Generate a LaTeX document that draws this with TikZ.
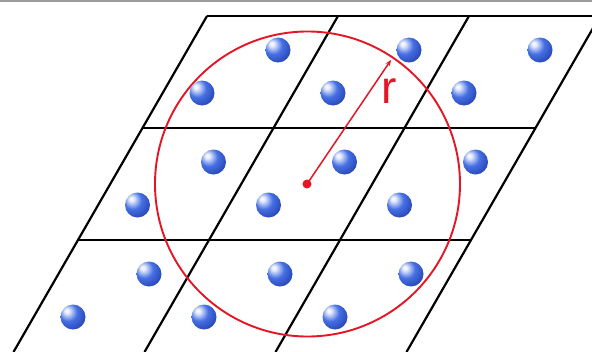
\documentclass[tikz,border=0pt]{standalone}
\usepackage{fontspec}
\setmainfont{Liberation Sans}
\usetikzlibrary{arrows.meta}
\definecolor{lred}{RGB}{228,22,38}
\definecolor{bl}{RGB}{70,112,228}
\definecolor{bd}{RGB}{28,55,165}
\definecolor{topgray}{RGB}{156,156,156}
\pgfdeclareradialshading{myball}{\pgfpoint{-13bp}{13bp}}{color(0bp)=(white); color(5bp)=(white!85!bl); color(18bp)=(bl); color(40bp)=(bd); color(72bp)=(bd)}
\tikzset{
  latline/.style={black,line width=2.2pt},
  atom/.style={circle,minimum size=25pt,inner sep=0pt,shading=myball},
}
\begin{document}
\begin{tikzpicture}[x=1pt,y=-1pt]
\useasboundingbox (0,0) rectangle (592,351);
\fill[white] (0,0) rectangle (592,351);
\begin{scope}
\clip (0,0) rectangle (592,351);
% horizontal lattice lines
\draw[latline] (207,16) -- (600,16);
\draw[latline] (142.5,128) -- (535.5,128);
\draw[latline] (78,240) -- (471,240);
% slanted lattice lines
\foreach \i in {0,1,2,3}{
  \draw[latline] ({207+131*\i},16) -- ({13.5+131*\i},352);
}
% red circle
\draw[lred,line width=1.9pt] (307.5,184) circle (152.5);
\end{scope}
\fill[topgray] (0,0) rectangle (592,2.2);
% radius arrow
\node[circle,fill=lred,minimum size=9pt,inner sep=0pt] (c) at (307,184) {};
\coordinate (rim) at (391,60);
\draw[lred,line width=1.5pt,-{Stealth[length=6pt,width=5pt]}] (c.center) -- (rim);
\node[text=lred,font=\fontsize{46}{46}\selectfont,inner sep=0pt] (r) at (389,91) {r};
% atoms
\foreach \i in {0,1,2}{
  \foreach \j in {0,1,2}{
    \node[atom] (a\i\j) at ({278+131*\i-64.5*\j},{50+112*\j}) {};
    \node[atom] (b\i\j) at ({202+131*\i-64.5*\j},{93+112*\j}) {};
  }
}
\end{tikzpicture}
\end{document}
